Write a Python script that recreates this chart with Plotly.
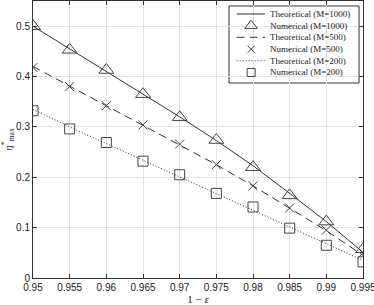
import plotly.graph_objects as go

x = [0.95, 0.955, 0.96, 0.965, 0.97, 0.975, 0.98, 0.985, 0.99, 0.995]

theo_1000 = [0.500, 0.455, 0.411, 0.366, 0.320, 0.273, 0.223, 0.168, 0.112, 0.051]
num_1000 = [0.500, 0.453, 0.413, 0.365, 0.319, 0.274, 0.220, 0.164, 0.112, 0.057]

theo_500 = [0.420, 0.381, 0.342, 0.303, 0.264, 0.225, 0.183, 0.139, 0.094, 0.045]
num_500 = [0.418, 0.380, 0.342, 0.304, 0.266, 0.225, 0.183, 0.139, 0.095, 0.050]

theo_200 = [0.335, 0.300, 0.267, 0.234, 0.201, 0.168, 0.135, 0.101, 0.068, 0.035]
num_200 = [0.332, 0.296, 0.269, 0.232, 0.205, 0.168, 0.141, 0.099, 0.065, 0.032]

x_ticks = [0.95, 0.955, 0.96, 0.965, 0.97, 0.975, 0.98, 0.985, 0.99, 0.995]
x_tick_labels = ["0.95", "0.955", "0.96", "0.965", "0.97", "0.975", "0.98", "0.985", "0.99", "0.995"]
y_ticks = [0, 0.1, 0.2, 0.3, 0.4, 0.5]
y_tick_labels = ["0", "0.1", "0.2", "0.3", "0.4", "0.5"]

legend_names = ["Theoretical (M=1000)", "Numerical (M=1000)", "Theoretical (M=500)",
                "Numerical (M=500)", "Theoretical (M=200)", "Numerical (M=200)"]

line_col = "#333333"
mk_col = "#444444"

styles = [
    dict(kind="line", dash="solid"),
    dict(kind="marker", symbol="triangle-up-open", size=13),
    dict(kind="line", dash="8px,5px"),
    dict(kind="marker", symbol="x-thin-open", size=9),
    dict(kind="line", dash="1px,2px"),
    dict(kind="marker", symbol="square-open", size=10),
]
series = [theo_1000, num_1000, theo_500, num_500, theo_200, num_200]

fig = go.Figure()
for name, st, ys in zip(legend_names, styles, series):
    if st["kind"] == "line":
        fig.add_trace(go.Scatter(x=x, y=ys, mode="lines", name=name, showlegend=False,
                                 line=dict(color=line_col, width=1, dash=st["dash"])))
    else:
        fig.add_trace(go.Scatter(x=x, y=ys, mode="markers", name=name, showlegend=False,
                                 marker=dict(symbol=st["symbol"], size=st["size"], color=mk_col,
                                             line=dict(width=1, color=mk_col))))

# ---- custom legend (paper coordinates of the plot area) ----
box_x0, box_x1, box_y0, box_y1 = 0.594, 0.988, 0.704, 0.982
fig.add_shape(type="rect", xref="paper", yref="paper", x0=box_x0, x1=box_x1, y0=box_y0, y1=box_y1,
              fillcolor="white", line=dict(color="#333333", width=1), layer="between")
row_y = [0.953, 0.911, 0.869, 0.826, 0.784, 0.742]
samp_x0, samp_x1, samp_xc, text_x = 0.617, 0.703, 0.661, 0.712
for name, st, ry in zip(legend_names, styles, row_y):
    if st["kind"] == "line":
        fig.add_trace(go.Scatter(x=[samp_x0, samp_x1], y=[ry, ry], xaxis="x2", yaxis="y2",
                                 mode="lines", line=dict(color=line_col, width=1, dash=st["dash"]),
                                 showlegend=False, hoverinfo="skip"))
    else:
        fig.add_trace(go.Scatter(x=[samp_xc], y=[ry], xaxis="x2", yaxis="y2", mode="markers",
                                 marker=dict(symbol=st["symbol"], size=st["size"] - 2, color=mk_col,
                                             line=dict(width=1, color=mk_col)),
                                 showlegend=False, hoverinfo="skip"))
    fig.add_annotation(x=text_x, y=ry, xref="paper", yref="paper", text=name,
                       showarrow=False, xanchor="left", yanchor="middle",
                       font=dict(family="Liberation Serif, serif", size=9, color="#222222"))

axis_common = dict(
    showgrid=True, gridcolor="#e3e3e3", gridwidth=1,
    showline=True, linecolor="#333333", linewidth=1, mirror="ticks",
    ticks="inside", ticklen=4, tickcolor="#333333",
    zeroline=False, automargin=False, ticklabeloverflow="allow",
    tickfont=dict(family="Liberation Sans, Arial, sans-serif", size=10, color="#222222"),
)

fig.update_layout(
    width=374, height=305,
    margin=dict(l=33, r=11, t=1, b=27),
    paper_bgcolor="white", plot_bgcolor="white",
    showlegend=False,
    xaxis=dict(
        range=[0.95, 0.995], tickvals=x_ticks, ticktext=x_tick_labels,
        title=dict(text="1 − <i>ε</i>", font=dict(family="Liberation Serif, serif", size=11, color="#222222"), standoff=0),
        **axis_common,
    ),
    yaxis=dict(
        range=[0, 0.55], tickvals=y_ticks, ticktext=y_tick_labels,
        title=dict(text="<i>η</i><sup>*</sup><sub>max</sub>", font=dict(family="Liberation Serif, serif", size=11, color="#222222"), standoff=2),
        **axis_common,
    ),
    xaxis2=dict(overlaying="x", range=[0, 1], visible=False, fixedrange=True),
    yaxis2=dict(overlaying="y", range=[0, 1], visible=False, fixedrange=True),
)

fig.write_html("out.html", config={"displayModeBar": False},
               post_script="document.body.style.margin='0';document.body.style.padding='0';")
